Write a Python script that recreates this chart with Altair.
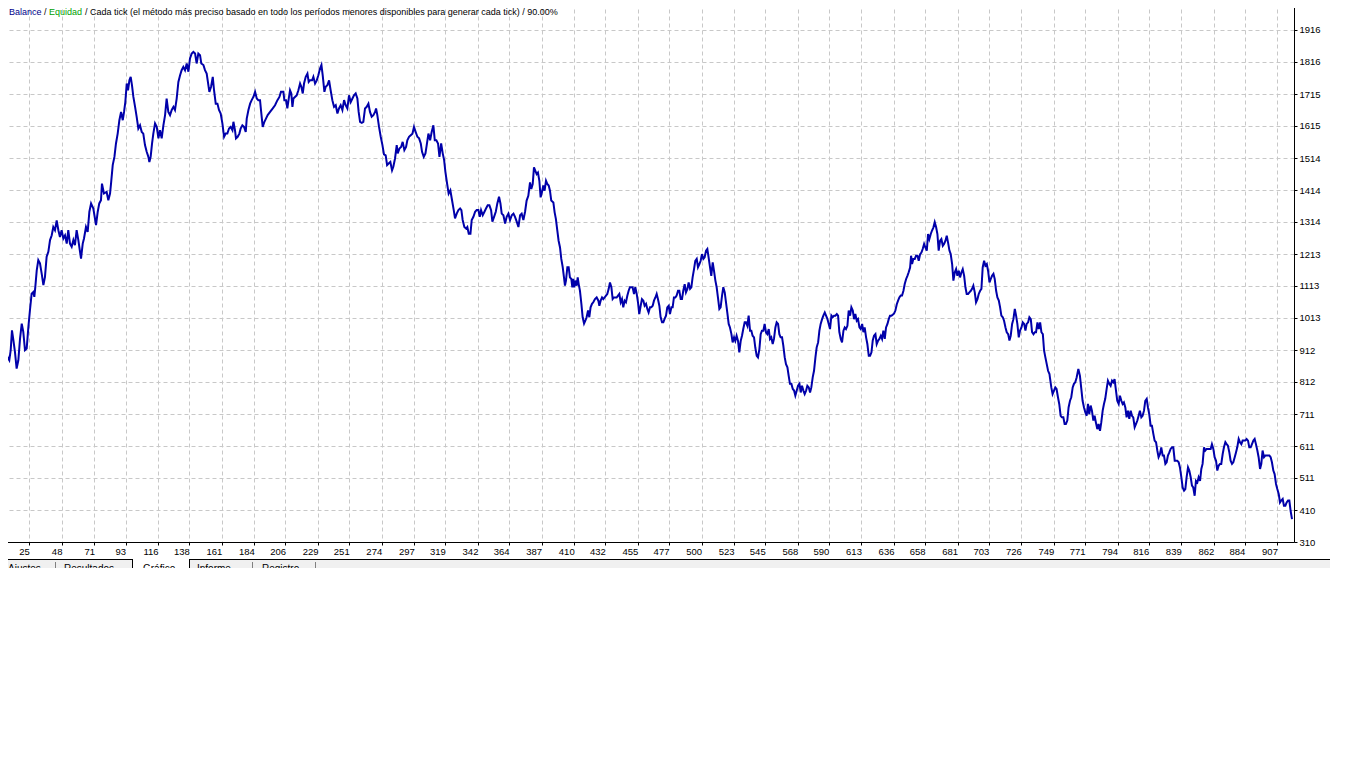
import altair as alt
import pandas as pd

# ---- balance curve (trade number, balance) ----
trade_a = [4.2,5.4,6.1,7.1,8.5,9.4,10.8,11.8,12.7,13.7,
           14.8,16.0,17.2,18.4,19.6,20.7,21.9,23.1,24.3,25.4,
           26.6,27.8,28.5,29.2,30.2,31.3,32.5,33.7,34.9,36.0,
           37.2,38.4,39.6,40.8,41.9,43.1,44.3,45.5,46.6,47.8,
           49.0,50.2,51.4,52.5,53.7,54.9,56.1,57.2,58.4,59.6,
           60.8,61.5,62.7,63.6,65.0,66.2,67.4,68.6,70.2,72.1,
           73.3,74.4,75.6,76.3,77.7,79.6,80.8,82.0,82.7,83.9,
           85.1,86.2,87.4,88.6,89.8,91.0,91.9,92.8,93.8,94.7,
           95.7,96.6,97.5,98.5,99.7,100.8,102.0,103.2,104.4,105.5,
           106.7,107.9,109.1,109.8,110.7,111.7,112.6,113.8,115.0,116.2,
           117.3,118.5,119.7,120.9,122.0,123.2,124.4,125.6,126.8,127.9,
           129.1,130.3,131.5,132.6,133.8,135.0,136.2,137.4,138.5,139.7,
           140.9,142.1,143.2,144.4,145.6,146.5,148.0,149.1,150.3,151.5,
           152.2,153.4,154.6,155.5,156.7,157.9,159.0,160.2,161.4,162.6,
           163.7,164.9,166.1,167.3,168.5,169.2,170.3,171.0,172.2,173.4,
           174.3,175.5,176.7,177.9,178.6,179.8,181.0,182.1,183.3,184.5,
           185.7,186.8]
balance_a = [964,980,943,959,912,891,880,912,974,943,
             906,854,880,948,995,969,912,917,985,1037,
             1089,1094,1079,1110,1162,1194,1184,1152,1116,1141,
             1205,1220,1257,1272,1298,1288,1319,1288,1267,1288,
             1262,1272,1246,1288,1246,1236,1257,1241,1288,1257,
             1220,1199,1246,1262,1298,1283,1346,1372,1356,1304,
             1346,1372,1382,1434,1403,1408,1382,1403,1434,1492,
             1518,1560,1591,1633,1659,1633,1659,1690,1748,1727,
             1758,1769,1743,1706,1675,1644,1607,1617,1596,1591,
             1555,1534,1518,1502,1518,1560,1591,1623,1612,1576,
             1602,1576,1617,1649,1701,1659,1649,1665,1675,1665,
             1701,1753,1774,1790,1800,1790,1811,1785,1827,1842,
             1847,1842,1811,1842,1837,1811,1806,1790,1779,1743,
             1722,1738,1769,1727,1685,1685,1665,1654,1623,1581,
             1591,1591,1607,1612,1602,1628,1602,1576,1581,1591,
             1607,1617,1612,1596,1638,1665,1685,1696,1706,1722,
             1701,1696]

trade_b = [188.0,188.7,189.9,191.1,192.2,193.4,195.1,197.0,198.6,200.3,
           201.7,202.8,204.5,205.2,206.4,207.3,208.3,209.2,210.1,210.9,
           211.6,212.7,213.9,215.1,216.3,217.2,218.2,219.1,220.3,221.5,
           222.4,223.3,224.8,225.7,226.9,228.1,229.2,230.4,231.4,232.3,
           233.5,234.4,235.6,236.8,237.9,239.1,240.3,241.5,242.7,243.8,
           245.0,246.2,247.4,248.5,249.7,250.9,252.1,253.3,254.4,255.6,
           256.8,257.7,258.7,259.9,261.0,262.2,263.4,264.6,265.7,266.9,
           268.1,269.3,270.0,270.9,272.1,273.3,274.5,275.6,276.8,277.8,
           278.9,280.1,281.3,282.2,283.4,284.6,285.3,286.5,287.7,288.8,
           290.0,291.2,292.1,293.3,294.5,295.7,296.8,298.0,299.2,300.4,
           301.6,302.5,303.7,304.9,305.8,307.0,308.2,309.3,310.5,311.5,
           312.6,313.8,314.8,316.0,317.1,318.1,319.0,320.2,321.3,322.5,
           323.7,324.9,325.8,327.0,328.2,329.4,330.3,331.2,332.4,333.6,
           334.5,335.5,336.7,337.6,338.8,340.0,341.1,342.3,343.3,344.2,
           345.4,346.6,347.7,348.9,350.1,351.3,352.2,353.4,354.6,355.7,
           356.9,357.9,358.8,360.0,361.2,362.3,363.5,364.7,365.9,367.1,
           368.2,369.4,370.6,371.8,372.9,374.1,375.3]
balance_b = [1696,1664,1612,1628,1638,1649,1659,1670,1680,1696,
             1706,1722,1722,1696,1696,1670,1701,1727,1717,1675,
             1701,1706,1711,1727,1748,1738,1717,1748,1769,1779,
             1753,1758,1758,1769,1748,1758,1774,1795,1806,1774,
             1722,1738,1743,1758,1727,1696,1675,1680,1654,1670,
             1680,1665,1696,1680,1670,1711,1690,1701,1711,1717,
             1701,1659,1628,1625,1628,1670,1675,1685,1659,1644,
             1649,1659,1670,1649,1612,1581,1555,1526,1523,1492,
             1497,1502,1476,1487,1513,1555,1529,1544,1549,1565,
             1539,1549,1570,1581,1586,1591,1612,1596,1581,1576,
             1560,1534,1518,1529,1555,1591,1570,1596,1617,1570,
             1570,1560,1518,1560,1529,1508,1471,1434,1403,1413,
             1382,1351,1325,1340,1351,1356,1351,1320,1298,1293,
             1298,1277,1277,1320,1330,1346,1351,1351,1330,1351,
             1335,1346,1356,1366,1366,1351,1315,1330,1346,1372,
             1393,1372,1340,1335,1309,1330,1340,1320,1335,1340,
             1330,1315,1298,1335,1340,1320,1346]

trade_c = [376.4,377.6,378.8,379.7,380.7,381.6,382.5,383.5,384.4,385.4,
           386.3,387.2,388.2,389.1,390.1,391.0,392.0,392.9,393.8,395.3,
           396.2,397.1,398.1,399.0,400.0,400.9,401.9,402.8,403.5,404.2,
           405.2,406.1,407.0,408.0,408.7,409.4,410.1,410.8,411.8,412.5,
           413.2,414.1,415.1,416.0,417.0,417.9,418.8,419.8,420.7,421.6,
           422.6,423.5,424.7,425.9,427.1,427.8,428.7,429.7,430.6,431.5,
           432.5,433.4,434.4,435.3,436.3,437.2,438.1,439.1,440.0,441.0,
           441.9,442.9,443.8,444.7,445.7,446.6,447.6,448.5,449.4,450.4,
           451.3,452.3,453.2,454.2,455.1,456.0,457.0,457.9,458.9,459.8,
           460.8,461.7,462.6,463.6,464.5,465.5,466.4,467.4,468.3,469.2,
           470.2,471.1,472.1,473.0,473.9,474.9,475.8,476.8,477.7,478.7,
           479.6,480.5,481.5,482.4,483.4,484.3,485.3,486.2,487.1,488.1,
           489.0,490.0,490.9,491.9,492.8,493.7,494.7,495.6,496.6,497.5,
           498.5,499.4,500.3,501.3,502.2,503.2,504.1,505.0,506.0,506.9,
           507.9,508.8,509.8,510.7,511.6,512.6,513.5,514.5,515.4,516.4,
           517.3,518.2,519.2,520.1,521.1,522.0,523.0,523.9,524.8,525.8,
           526.7,527.7,528.6,529.5,530.5,531.4,532.4,533.3,534.3,535.2,
           536.1,537.1,538.0,539.0,539.9,540.9,541.8,542.7,543.7,544.6,
           545.6,546.5,547.5,548.4,549.3,550.3,551.2,552.2,553.1,554.1,
           555.0,555.9,556.9,557.8,558.8,559.7,560.7,561.6,562.5]
balance_c = [1381,1396,1438,1417,1433,1485,1475,1464,1469,1443,
             1391,1407,1428,1412,1443,1433,1428,1412,1381,1375,
             1344,1323,1287,1255,1234,1198,1172,1140,1114,1130,
             1172,1172,1140,1135,1109,1135,1109,1130,1114,1140,
             1119,1098,1057,1015,995,1004,1015,1036,1015,1046,
             1057,1062,1072,1077,1067,1051,1067,1077,1072,1077,
             1083,1088,1104,1124,1109,1072,1077,1077,1077,1083,
             1088,1062,1072,1046,1067,1062,1083,1098,1109,1109,
             1109,1088,1109,1088,1062,1025,1051,1072,1067,1051,
             1057,1041,1030,1046,1046,1051,1067,1077,1088,1072,
             1051,1015,999,999,1010,1020,1046,1051,1025,1046,
             1046,1077,1077,1083,1098,1098,1072,1072,1098,1119,
             1093,1104,1124,1104,1109,1140,1166,1192,1198,1172,
             1182,1192,1213,1198,1203,1224,1229,1203,1172,1145,
             1187,1161,1130,1109,1077,1041,1046,1083,1109,1093,
             1062,1030,994,983,963,936,952,941,957,941,
             905,941,957,978,999,999,988,1020,973,973,
             957,952,920,894,889,915,962,973,973,994,
             967,962,978,947,952,931,947,983,999,994,
             962,952,952,926,889,868,858,831,806]

trade_d = [563.5,564.5,565.4,566.3,567.3,568.2,569.2,570.1,571.0,572.0,
           572.9,573.9,574.8,575.8,576.7,577.6,578.6,579.5,580.5,581.4,
           582.4,583.3,584.2,585.2,586.1,587.1,588.0,589.0,589.9,590.8,
           591.8,592.7,593.7,594.6,595.6,596.5,597.4,598.4,599.3,600.3,
           601.2,602.1,603.1,604.0,605.0,605.9,606.9,607.8,608.7,609.7,
           610.6,611.6,612.5,613.5,614.4,615.3,616.3,617.2,618.2,619.1,
           620.1,621.0,621.9,622.9,623.8,624.8,625.7,626.7,627.6,628.5,
           629.5,630.4,631.4,632.3,633.2,634.2,635.1,636.1,637.0,638.0,
           638.9,639.8,640.8,641.7,642.7,643.6,644.6,645.5,646.4,647.4,
           648.1,648.8,649.7,650.7,651.6,652.6,653.5,654.5,655.4,656.3,
           657.3,658.2,659.2,660.1,661.0,662.0,662.9,663.9,664.8,665.8,
           666.7,667.6,668.6,669.5,670.5,671.4,672.4,673.3,674.2,675.2,
           676.1,677.1,678.0,679.0,679.9,680.8,681.8,682.7,683.7,684.6,
           685.6,686.5,687.4,688.4,689.3,690.3,691.2,692.1,693.1,694.0,
           695.0,695.9,696.9,697.8,698.7,699.7,700.6,701.6,702.5,703.5,
           704.4,705.3,706.3,707.2,708.2,709.1,710.1,711.0,711.9,712.9,
           713.8,714.8,715.7,716.7,717.6,718.5,719.5,720.4,721.4,722.3,
           723.2,724.2,725.1,726.1,727.0,728.0,728.9,729.8,730.8,731.7,
           732.7,733.6,734.6,735.5,736.4,737.4,738.3,739.3,740.2,741.2,
           742.1,743.0,744.0,744.9,745.9]
balance_d = [806,790,785,769,785,800,806,779,800,785,
             774,785,800,795,779,795,827,847,889,921,
             936,973,994,1009,1020,1030,1020,1009,994,978,
             1020,1015,1020,1020,1025,1020,968,947,936,973,
             983,978,988,1036,1020,1046,1036,1009,1025,1004,
             1009,983,978,994,968,983,952,931,894,894,
             905,942,957,962,931,942,947,957,947,973,
             947,983,994,1009,1020,1020,1023,1027,1036,1056,
             1067,1077,1083,1083,1098,1119,1135,1145,1156,1171,
             1208,1182,1198,1198,1208,1208,1192,1213,1218,1229,
             1245,1234,1224,1276,1260,1276,1287,1297,1313,1297,
             1276,1224,1255,1260,1239,1245,1255,1271,1250,1224,
             1213,1182,1130,1156,1166,1145,1161,1140,1156,1166,
             1145,1109,1088,1088,1093,1098,1104,1114,1093,1062,
             1072,1088,1098,1104,1171,1192,1177,1182,1161,1124,
             1135,1145,1151,1135,1098,1077,1067,1046,1020,1015,
             1004,983,968,962,942,957,994,1009,1041,1020,
             994,952,973,983,999,994,973,994,999,1015,
             1009,968,962,968,968,999,978,999,968,962,
             910,889,867,847,837]

trade_e = [746.2,747.2,748.1,749.1,750.0,750.9,751.9,752.8,753.8,754.7,
           755.7,756.6,757.5,758.5,759.4,760.4,761.3,762.3,763.2,764.1,
           765.1,766.3,767.4,768.4,769.3,770.3,771.2,772.2,773.1,774.0,
           775.0,775.9,776.9,777.8,778.7,779.7,780.6,781.6,782.5,783.5,
           784.4,785.3,786.3,787.2,788.2,789.1,790.1,791.0,791.9,792.9,
           793.8,794.8,795.7,796.7,797.6,798.5,799.5,800.4,801.4,802.3,
           803.3,804.2,805.1,806.1,807.0,808.0,808.9,809.8,810.8,811.7,
           812.7,813.6,814.6,815.5,816.4,817.4,818.3,819.3,820.2,821.2,
           822.1,823.0,824.0,824.9,825.9,826.8,827.8,828.7,829.6,830.6,
           831.5,832.5,833.4,834.4,835.3,836.2,837.2,838.1,839.1,840.0,
           841.0,841.9,842.8,843.8,844.7,845.7,846.6,847.5,848.5,849.4,
           850.4,851.3,852.3,853.2,854.1,855.1,856.0,857.0,857.9,858.9,
           859.8,860.7,861.7,862.6,863.6,864.5,865.4,866.4,867.3,868.3,
           869.2,870.2,871.1,872.0,873.0,873.9,874.9,875.8,876.8,877.7,
           878.6,879.6,880.5,881.5,882.4,883.4,884.3,885.2,886.2,887.1,
           888.1,889.0,890.0,890.9,891.8,892.8,893.7,894.7,895.6,896.5,
           897.5,898.4,899.4,900.3,901.3,902.2,903.1,904.1,905.0,906.0,
           906.9,907.9,908.8,909.7,910.7,911.6,912.6,913.5,914.5,915.4,
           916.3,917.3]
balance_e = [826,795,774,785,795,790,764,743,706,701,
             701,680,680,691,732,753,764,795,806,811,
             826,853,832,790,753,732,717,706,743,711,
             738,722,691,706,685,664,680,659,685,722,
             743,759,790,816,806,800,816,811,821,785,
             753,743,769,753,743,748,732,701,722,696,
             722,706,701,670,680,691,706,722,701,706,
             722,753,759,732,711,675,675,649,628,623,
             597,576,586,607,581,581,555,560,581,591,
             602,607,607,565,565,565,560,544,513,481,
             471,476,513,544,534,513,487,481,455,502,
             497,513,502,539,555,607,597,602,602,602,
             602,617,602,576,565,534,549,555,555,586,
             607,623,617,612,591,565,555,560,576,591,
             607,633,623,617,628,628,628,633,628,607,
             607,617,628,633,617,597,576,539,555,597,
             576,581,581,581,581,576,560,534,523,492,
             476,461,434,440,445,424,424,434,440,440,
             408,382]

x_tick_values = [25, 48, 71, 93, 116, 138, 161, 184, 206, 229, 251, 274, 297,
                 319, 342, 364, 387, 410, 432, 455, 477, 500, 523, 545, 568, 590,
                 613, 636, 658, 681, 703, 726, 749, 771, 794, 816, 839, 862, 884, 907]
y_tick_values = [310, 410, 511, 611, 711, 812, 912, 1013, 1113, 1213, 1314,
                 1414, 1514, 1615, 1715, 1816, 1916]

title_pieces = ["Balance", "/", "Equidad",
                "/ Cada tick (el método más preciso basado en todo los períodos menores disponibles para generar cada tick)  / 90.00%"]
tab_names = ["Ajustes", "Resultados", "Gráfico", "Informe", "Registro"]

# ---------------------------------------------------------------
df = pd.DataFrame({
    "trade": trade_a + trade_b + trade_c + trade_d + trade_e,
    "balance": balance_a + balance_b + balance_c + balance_d + balance_e,
})

FONT = "Liberation Sans"
GRID = "#c8c8c8"
LINE = "#0000aa"

x_axis = alt.Axis(values=x_tick_values, title=None, format="d", grid=True,
                  gridColor=GRID, gridDash=[4, 3], gridWidth=1,
                  domainColor="black", tickColor="black", tickSize=3,
                  labelAlign="right", labelBaseline="top", labelPadding=1,
                  labelFont=FONT, labelFontSize=9.5, labelColor="black",
                  labelFlush=False, labelOverlap=False)
y_axis = alt.Axis(values=y_tick_values, title=None, orient="right", format="d",
                  grid=True, gridColor=GRID, gridDash=[4, 3], gridWidth=1,
                  domainColor="black", tickColor="black", tickSize=3,
                  labelPadding=2, labelFont=FONT, labelFontSize=9.5,
                  labelColor="black", labelFlush=False, labelOverlap=False)

line = alt.Chart(df).mark_line(color=LINE, strokeWidth=2).encode(
    x=alt.X("trade:Q", scale=alt.Scale(domain=[0, 918.7], nice=False, zero=False), axis=x_axis),
    y=alt.Y("balance:Q", scale=alt.Scale(domain=[310, 2003.8], nice=False, zero=False), axis=y_axis),
)

def text_piece(label, px, py, color, size=9, align="left"):
    return alt.Chart(pd.DataFrame({"label": [label]})).mark_text(
        align=align, baseline="alphabetic", font=FONT, fontSize=size, color=color
    ).encode(x=alt.value(px), y=alt.value(py), text="label:N")

def box(x1, x2, y1, y2, color):
    return alt.Chart(pd.DataFrame({"k": [0]})).mark_rect(color=color).encode(
        x=alt.value(x1), x2=alt.value(x2), y=alt.value(y1), y2=alt.value(y2))

def rule(x1, x2, y1, y2, color):
    return alt.Chart(pd.DataFrame({"k": [0]})).mark_rule(color=color, strokeWidth=1).encode(
        x=alt.value(x1), x2=alt.value(x2), y=alt.value(y1), y2=alt.value(y2))

title_layers = [
    text_piece(title_pieces[0], 15, 13, "#00008b"),
    text_piece(title_pieces[1], 50, 13, "black"),
    text_piece(title_pieces[2], 55, 13, "#00a000"),
    text_piece(title_pieces[3], 91, 13, "black"),
]

tab_layers = [
    box(6, 1336, 557, 570, "#f0f0f0"),
    box(139, 195, 557, 570, "white"),
    rule(6, 139, 557.5, 557.5, "black"),
    rule(195, 1336, 557.5, 557.5, "black"),
    rule(138.5, 138.5, 557, 570, "black"),
    rule(195.5, 195.5, 557, 570, "black"),
    rule(61.5, 61.5, 560, 570, "#808080"),
    rule(258.5, 258.5, 560, 570, "#808080"),
    rule(321.5, 321.5, 560, 570, "#808080"),
    text_piece(tab_names[0], 14, 570, "black", size=10),
    text_piece(tab_names[1], 70, 570, "black", size=10),
    text_piece(tab_names[2], 149, 570, "black", size=10),
    text_piece(tab_names[3], 203, 570, "black", size=10),
    text_piece(tab_names[4], 268, 570, "black", size=10),
]

chart = alt.layer(line, *title_layers, *tab_layers).properties(
    width=1300, height=540,
    autosize=alt.AutoSizeParams(type="none"),
    padding={"left": -14, "top": -6, "right": 46, "bottom": 26},
    background="white",
).configure_view(strokeWidth=0)

chart.save("out.html", embed_options={"renderer": "svg", "actions": False})
